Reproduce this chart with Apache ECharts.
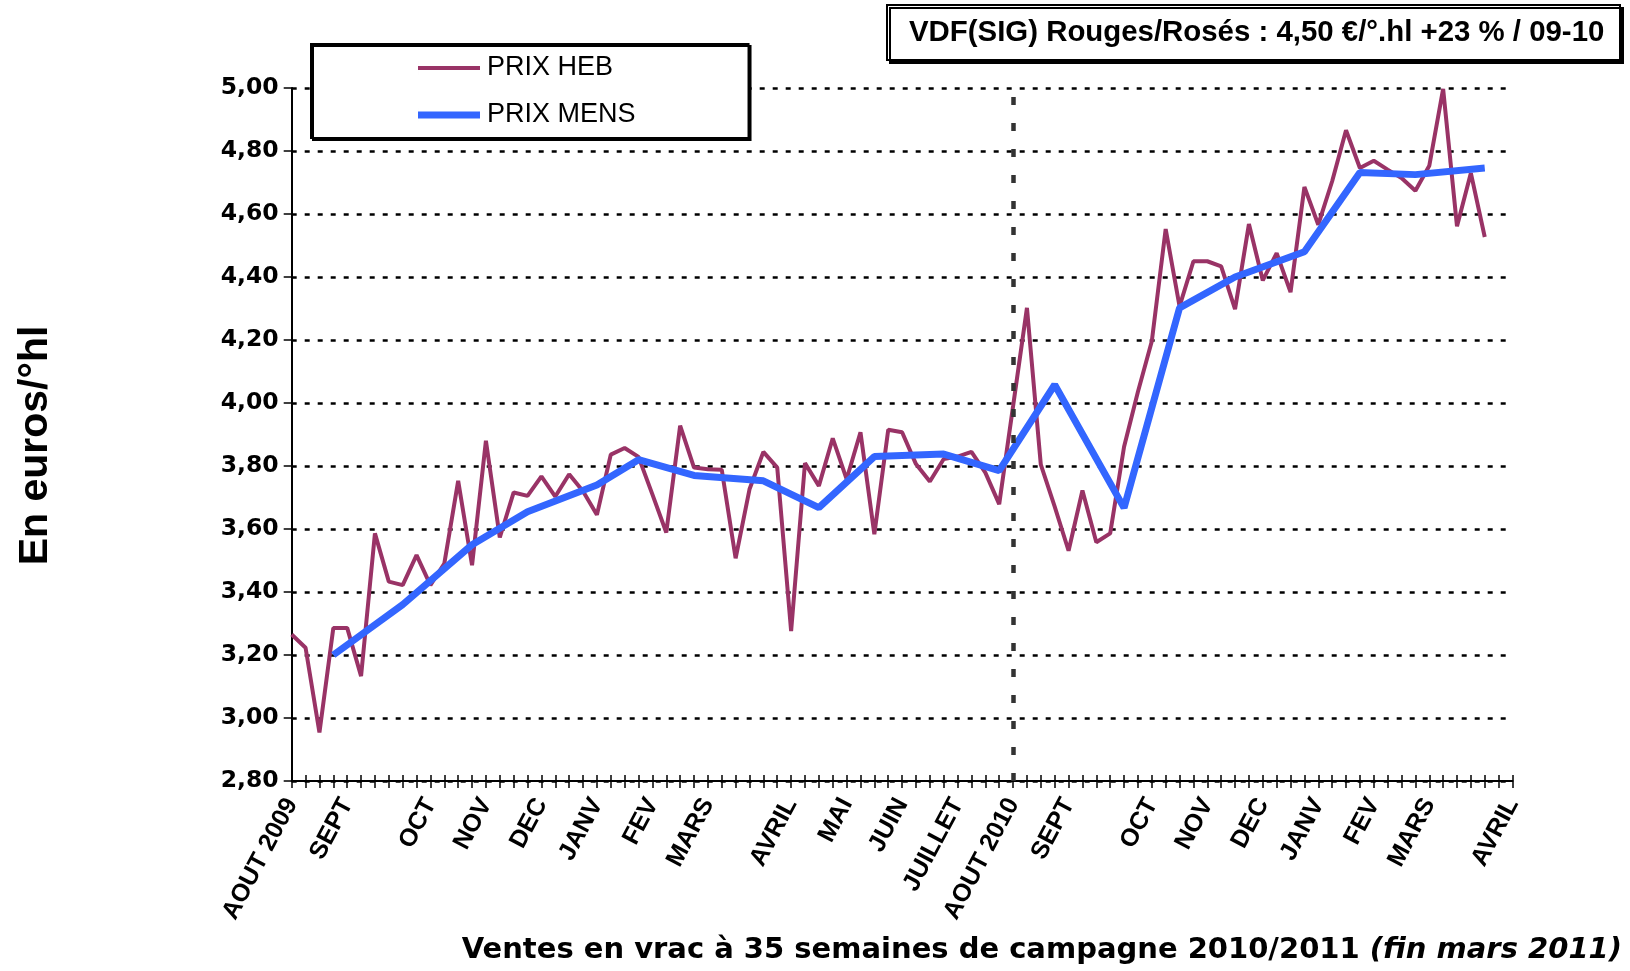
<!DOCTYPE html>
<html>
<head>
<meta charset="utf-8">
<script src="https://cdn.jsdelivr.net/npm/echarts@6/dist/echarts.min.js"></script>
<style>
  html, body { margin: 0; background: #fff; }
  #chart { width: 1630px; height: 971px; }
</style>
</head>
<body>
<div id="chart"></div>
<script>
// weekly sales, aug 2009 -> end of march 2011 (89 weekly slots on the axis)
const weekCount = 89;
const campaignStart = 52; // AOUT 2010

const monthNames = ["AOUT 2009", "SEPT", "OCT", "NOV", "DEC", "JANV", "FEV", "MARS", "AVRIL", "MAI", "JUIN", "JUILLET",
    "AOUT 2010", "SEPT", "OCT", "NOV", "DEC", "JANV", "FEV", "MARS", "AVRIL"];
const monthWeeks = [0, 4, 10, 14, 18, 22, 26, 30, 36, 40, 44, 48, 52, 56, 62, 66, 70, 74, 78, 82, 88];

const prixHeb = [
    3.265, 3.223, 2.954, 3.286, 3.286, 3.133, 3.586, 3.433, 3.422, 3.517,
    3.422, 3.490, 3.753, 3.485, 3.880, 3.573, 3.716, 3.705, 3.767, 3.703,
    3.774, 3.720, 3.645, 3.836, 3.857, 3.829, 3.710, 3.589, 3.928, 3.795,
    3.790, 3.788, 3.507, 3.726, 3.845, 3.795, 3.276, 3.809, 3.737, 3.888,
    3.758, 3.907, 3.583, 3.915, 3.907, 3.806, 3.751, 3.822, 3.830, 3.845,
    3.779, 3.679, 3.990, 4.302, 3.804, 3.671, 3.531, 3.722, 3.558, 3.586,
    3.861, 4.036, 4.196, 4.552, 4.307, 4.450, 4.450, 4.434, 4.298, 4.568,
    4.389, 4.476, 4.352, 4.686, 4.566, 4.704, 4.866, 4.746, 4.769, 4.741,
    4.714, 4.674, 4.753, 4.997, 4.561, 4.730, 4.527
];

// monthly price, placed on the week where Excel put it
const mensWeeks = [3, 8, 13, 17, 22, 25, 29, 34, 38, 42, 47, 51, 55, 60, 64, 68, 73, 77, 81, 86];
const prixMens = [3.200, 3.360, 3.550, 3.655, 3.740, 3.820, 3.770, 3.753, 3.668, 3.830, 3.838, 3.785,
    4.058, 3.667, 4.302, 4.400, 4.480, 4.732, 4.725, 4.746];

const weeks = Array.from({ length: weekCount }, (_, i) => "S" + i);
const labelAt = {};
monthWeeks.forEach((w, k) => { labelAt[w] = monthNames[k]; });
const mensData = mensWeeks.map((w, k) => [w, prixMens[k]]);

const ARIAL = "'Liberation Sans', Arial, sans-serif";
const WIDE = "'DejaVu Sans', Verdana, sans-serif";

// legend swatches: plain bars of two thicknesses (invisible sliver keeps the 62x14 box)
const thinBar = "path://M0,5 H62 V9 H0 Z M0,0 H0.01 V14 H0 Z";
const thickBar = "path://M0,3.5 H62 V10.5 H0 Z M0,0 H0.01 V14 H0 Z";

const chart = echarts.init(document.getElementById("chart"), null, { renderer: "canvas" });

chart.setOption({
    animation: false,
    backgroundColor: "#fff",
    title: [
        {
            text: "VDF(SIG) Rouges/Rosés : 4,50 €/°.hl +23 % / 09-10",
            left: 887,
            top: 5,
            padding: [12, 16, 12, 22],
            borderColor: "#000",
            borderWidth: 2,
            backgroundColor: "#fff",
            shadowColor: "#000",
            shadowOffsetX: 3,
            shadowOffsetY: 3,
            textStyle: { fontFamily: ARIAL, fontWeight: "bold", fontSize: 29.4, lineHeight: 31, color: "#000" }
        },
        {
            text: "{a|Ventes en vrac à 35 semaines de campagne 2010/2011 }{b|(fin mars 2011)}",
            right: 8,
            bottom: 6,
            padding: 0,
            textStyle: {
                rich: {
                    a: { fontFamily: WIDE, fontWeight: "bold", fontSize: 29, color: "#000" },
                    b: { fontFamily: WIDE, fontWeight: "bold", fontStyle: "italic", fontSize: 29, color: "#000" }
                }
            }
        }
    ],
    legend: {
        orient: "vertical",
        left: 311,
        top: 44,
        padding: [9, 113, 8, 107],
        itemWidth: 62,
        itemHeight: 14,
        itemGap: 17,
        borderColor: "#000",
        borderWidth: 2,
        backgroundColor: "#fff",
        shadowColor: "#000",
        shadowOffsetX: 2,
        shadowOffsetY: 2,
        itemStyle: { borderWidth: 0 },
        textStyle: { fontFamily: ARIAL, fontSize: 27, lineHeight: 30, color: "#000", padding: [0, 0, 0, 2] },
        data: [
            { name: "PRIX HEB", icon: thinBar },
            { name: "PRIX MENS", icon: thickBar }
        ]
    },
    grid: { left: 291.7, right: 117.5, top: 88, bottom: 190, containLabel: false },
    xAxis: [
        {
            type: "category",
            data: weeks,
            boundaryGap: false,
            axisLine: { lineStyle: { color: "#000", width: 2 } },
            axisTick: { show: true, interval: 0, length: 7, lineStyle: { color: "#000", width: 1.5 } },
            axisLabel: {
                interval: 0,
                rotate: 62,
                margin: 19,
                fontFamily: ARIAL,
                fontWeight: "bold",
                fontSize: 25,
                color: "#000",
                formatter: (v, idx) => labelAt[idx] || ""
            },
            splitLine: { show: false }
        },
        {
            type: "category",
            data: weeks,
            boundaryGap: false,
            position: "bottom",
            axisLine: { show: false },
            axisTick: { show: true, inside: true, interval: 0, length: 6, lineStyle: { color: "#000", width: 1.5 } },
            axisLabel: { show: false },
            splitLine: { show: false }
        }
    ],
    yAxis: {
        type: "value",
        min: 2.8,
        max: 5.0,
        interval: 0.2,
        name: "En euros/°hl",
        nameLocation: "middle",
        nameRotate: 90,
        nameGap: 236,
        nameTextStyle: { fontFamily: ARIAL, fontWeight: "bold", fontSize: 41, color: "#000", padding: [0, 22, 0, 0] },
        axisLine: { show: true, lineStyle: { color: "#000", width: 2 } },
        axisTick: { show: true, length: 8, lineStyle: { color: "#000", width: 1.5 } },
        axisLabel: {
            margin: 13,
            fontFamily: WIDE,
            fontWeight: "bold",
            fontSize: 23.5,
            color: "#000",
            formatter: v => v.toFixed(2).replace(".", ",")
        },
        splitLine: { show: true, lineStyle: { color: "#000", width: 2.5, type: [5, 8] } }
    },
    series: [
        {
            name: "PRIX HEB",
            type: "line",
            data: prixHeb,
            symbol: "none",
            lineStyle: { color: "#993366", width: 4 },
            itemStyle: { color: "#993366" },
            z: 3,
            markLine: {
                silent: true,
                symbol: "none",
                label: { show: false },
                lineStyle: { color: "#333", width: 4.5, type: [8, 18] },
                data: [{ xAxis: weeks[campaignStart] }]
            }
        },
        {
            name: "PRIX MENS",
            type: "line",
            data: mensData,
            symbol: "none",
            lineStyle: { color: "#3366FF", width: 7 },
            itemStyle: { color: "#3366FF" },
            z: 4
        }
    ]
});
</script>
</body>
</html>
